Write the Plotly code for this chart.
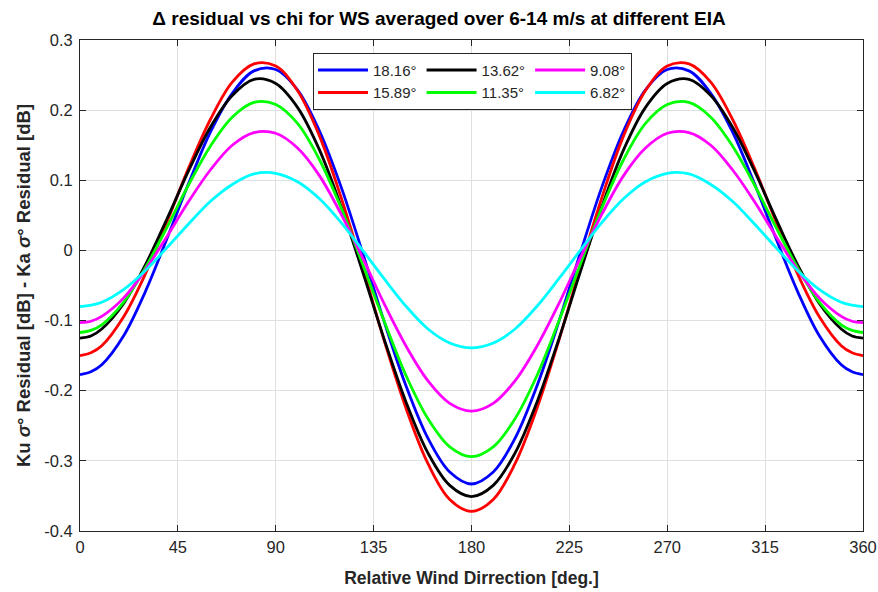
import plotly.graph_objects as go

# Relative wind direction [deg]
chi = [0, 5, 10, 20, 30, 40, 50, 60, 70, 80, 90, 100, 110, 120, 130, 140, 150, 160, 170, 180,
       190, 200, 210, 220, 230, 240, 250, 260, 270, 280, 290, 300, 310, 320, 330, 340, 350, 355, 360]

# Delta residual [dB] for each EIA
eia_1816 = [-0.177, -0.173, -0.163, -0.122, -0.059, 0.017, 0.096, 0.169, 0.224, 0.256, 0.258, 0.229, 0.171, 0.091, -0.004, -0.103, -0.194, -0.268, -0.316, -0.333,
            -0.316, -0.268, -0.194, -0.103, -0.004, 0.091, 0.171, 0.229, 0.258, 0.256, 0.224, 0.169, 0.096, 0.017, -0.059, -0.122, -0.163, -0.173, -0.177]
eia_1589 = [-0.150, -0.146, -0.136, -0.095, -0.034, 0.041, 0.118, 0.187, 0.240, 0.266, 0.263, 0.228, 0.164, 0.076, -0.025, -0.130, -0.226, -0.304, -0.355, -0.372,
            -0.355, -0.304, -0.226, -0.130, -0.025, 0.076, 0.164, 0.228, 0.263, 0.266, 0.240, 0.187, 0.118, 0.041, -0.034, -0.095, -0.136, -0.146, -0.150]
eia_1362 = [-0.125, -0.122, -0.112, -0.076, -0.021, 0.045, 0.114, 0.176, 0.221, 0.244, 0.238, 0.204, 0.144, 0.063, -0.031, -0.128, -0.217, -0.289, -0.335, -0.351,
            -0.335, -0.289, -0.217, -0.128, -0.031, 0.063, 0.144, 0.204, 0.238, 0.244, 0.221, 0.176, 0.114, 0.045, -0.021, -0.076, -0.112, -0.122, -0.125]
eia_1135 = [-0.117, -0.114, -0.106, -0.074, -0.025, 0.033, 0.094, 0.149, 0.190, 0.211, 0.208, 0.181, 0.130, 0.061, -0.020, -0.102, -0.179, -0.240, -0.280, -0.294,
            -0.280, -0.240, -0.179, -0.102, -0.020, 0.061, 0.130, 0.181, 0.208, 0.211, 0.190, 0.149, 0.094, 0.033, -0.025, -0.074, -0.106, -0.114, -0.117]
eia_908 = [-0.103, -0.101, -0.094, -0.068, -0.028, 0.020, 0.070, 0.115, 0.150, 0.168, 0.167, 0.146, 0.107, 0.052, -0.011, -0.077, -0.137, -0.186, -0.218, -0.229,
           -0.218, -0.186, -0.137, -0.077, -0.011, 0.052, 0.107, 0.146, 0.167, 0.168, 0.150, 0.115, 0.070, 0.020, -0.028, -0.068, -0.094, -0.101, -0.103]
eia_682 = [-0.080, -0.078, -0.074, -0.056, -0.029, 0.004, 0.038, 0.070, 0.094, 0.109, 0.110, 0.098, 0.074, 0.040, 0.000, -0.041, -0.080, -0.112, -0.132, -0.139,
           -0.132, -0.112, -0.080, -0.041, 0.000, 0.040, 0.074, 0.098, 0.110, 0.109, 0.094, 0.070, 0.038, 0.004, -0.029, -0.056, -0.074, -0.078, -0.080]

labels = ["18.16°", "15.89°", "13.62°", "11.35°", "9.08°", "6.82°"]
colors = ["#0000ff", "#ff0000", "#000000", "#00ff00", "#ff00ff", "#00ffff"]
groups = ["c1", "c1", "c2", "c2", "c3", "c3"]
series = [eia_1816, eia_1589, eia_1362, eia_1135, eia_908, eia_682]

x_ticks = [0, 45, 90, 135, 180, 225, 270, 315, 360]
y_ticks = [-0.4, -0.3, -0.2, -0.1, 0, 0.1, 0.2, 0.3]
y_tick_text = ["-0.4", "-0.3", "-0.2", "-0.1", "0", "0.1", "0.2", "0.3"]

FONT = "Liberation Sans, Arial, Helvetica, sans-serif"
AXC = "#262626"

fig = go.Figure()
for lab, col, grp, ys in zip(labels, colors, groups, series):
    fig.add_trace(go.Scatter(
        x=chi, y=ys, mode="lines", name=lab, legendgroup=grp,
        line=dict(color=col, width=2.8, shape="spline", smoothing=1.0),
        hoverinfo="skip"))

axis_common = dict(
    showline=True, linecolor=AXC, linewidth=1, mirror="ticks",
    ticks="inside", ticklen=6, tickcolor=AXC, tickwidth=1,
    showgrid=True, gridcolor="#dfdfdf", gridwidth=1, zeroline=False,
    tickfont=dict(family=FONT, size=16.5, color=AXC),
    automargin=False, ticklabeloverflow="allow",
)

fig.update_xaxes(
    range=[0, 360], tickmode="array", tickvals=x_ticks,
    ticktext=[str(v) for v in x_ticks], ticklabelstandoff=1,
    title=dict(text="<b>Relative Wind Dirrection [deg.]</b>",
               font=dict(family=FONT, size=17.5, color=AXC), standoff=16),
    **axis_common)
fig.update_yaxes(
    range=[-0.4, 0.3], tickmode="array", tickvals=y_ticks, ticktext=y_tick_text,
    ticklabelstandoff=3,
    title=dict(text="<b>Ku <i>σ</i>° Residual [dB] - Ka <i>σ</i>° Residual [dB]</b>",
               font=dict(family=FONT, size=18.5, color=AXC), standoff=8),
    **axis_common)

fig.update_layout(
    width=878, height=592,
    margin=dict(l=80, r=15, t=40, b=61),
    paper_bgcolor="white", plot_bgcolor="white",
    title=dict(text="<b>Δ residual vs chi for WS averaged over 6-14 m/s at different EIA</b>",
               font=dict(family=FONT, size=19, color="#000000"),
               x=0.5, xref="container", xanchor="center",
               y=1 - 18 / 592, yref="container", yanchor="middle"),
    legend=dict(
        orientation="h", traceorder="grouped", tracegroupgap=0,
        x=0.2976, y=0.974, xanchor="left", yanchor="top",
        bgcolor="white", bordercolor=AXC, borderwidth=1,
        font=dict(family=FONT, size=15, color=AXC),
        itemwidth=50,
    ),
    showlegend=True,
)

fig.write_html("out.html")
